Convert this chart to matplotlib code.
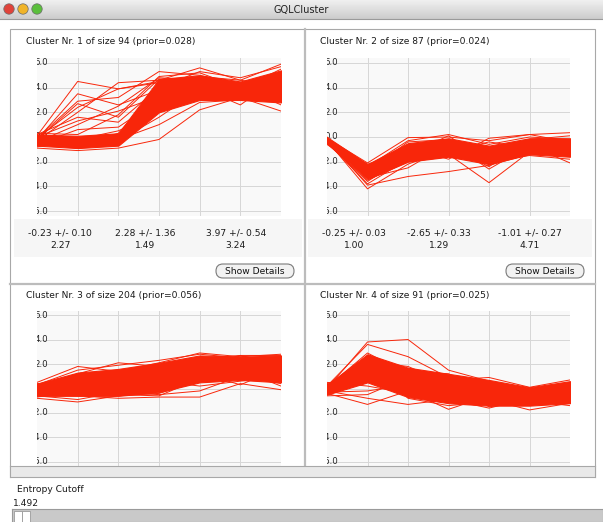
import numpy as np
import matplotlib
matplotlib.use('Agg')
import matplotlib.pyplot as plt
from matplotlib.patches import Rectangle, FancyBboxPatch, Circle

# profile values of every cluster, one row per gene, 7 conditions
xs = [0, 1, 2, 3, 4, 5, 6]

titles = ['Cluster Nr. 1 of size 94 (prior=0.028)',
          'Cluster Nr. 2 of size 87 (prior=0.024)',
          'Cluster Nr. 3 of size 204 (prior=0.056)',
          'Cluster Nr. 4 of size 91 (prior=0.025)']

# dense core of each cluster (lower / upper envelope)
c1_lo = [-0.7, -0.9, -0.7, 2.0, 3.0, 3.0, 2.8]
c1_hi = [0.2, 0.1, 0.3, 4.7, 5.0, 4.5, 5.4]
c2_lo = [-0.5, -3.4, -2.0, -1.6, -2.2, -1.4, -1.6]
c2_hi = [0.0, -2.2, -0.5, -0.1, -0.7, -0.1, -0.1]
c3_lo = [-0.6, -0.6, -0.6, -0.3, 0.5, 0.7, 0.5]
c3_hi = [0.4, 1.3, 1.6, 2.1, 2.7, 2.6, 2.7]
c4_lo = [-0.5, 0.5, -0.7, -1.2, -1.4, -1.4, -1.2]
c4_hi = [0.3, 2.8, 1.7, 1.2, 0.7, 0.1, 0.6]

c1_lines = [
    [-0.2, -0.5, -0.4, 3.5, 4.5, 4.0, 4.8],
    [0.0, -0.3, 0.0, 4.2, 4.8, 4.3, 5.2],
    [-0.5, -0.8, -0.7, 2.4, 3.6, 3.4, 3.0],
    [-0.9, -1.1, -0.9, -0.2, 2.2, 3.2, 2.1],
    [0.1, 4.5, 3.9, 4.4, 4.7, 4.2, 4.5],
    [-0.1, 2.9, 3.2, 5.3, 5.0, 4.2, 5.0],
    [-0.3, 2.0, 4.4, 4.6, 5.6, 4.6, 5.9],
    [0.2, 1.6, 1.2, 4.0, 4.9, 4.6, 4.1],
    [-0.4, 1.0, 2.5, 4.8, 4.6, 3.3, 4.4],
    [-0.6, 0.6, 0.8, 3.0, 4.0, 3.6, 3.7],
    [-0.2, 3.5, 2.6, 3.8, 4.2, 3.9, 5.5],
    [0.3, 0.2, 1.8, 4.9, 5.2, 4.0, 4.6],
    [-0.7, -0.4, -0.2, 1.0, 2.8, 3.0, 3.4],
    [-0.1, 2.4, 3.9, 4.5, 4.0, 2.6, 4.9],
    [-0.5, -0.9, -0.5, 2.8, 4.4, 4.4, 4.2],
    [0.0, 1.3, 2.1, 3.3, 3.3, 3.8, 3.2],
    [-0.3, -0.6, 0.3, 4.0, 5.3, 4.8, 5.7],
    [-0.8, -0.2, 0.5, 2.0, 3.1, 4.1, 2.6],
    [-0.2, 2.7, 1.6, 4.7, 4.5, 3.5, 4.0],
    [0.1, -0.1, -0.3, 1.6, 3.8, 3.7, 3.9],
]
c2_lines = [
    [-0.1, -2.1, -0.05, 0.0, -0.3, 0.2, 0.35],
    [-0.3, -4.2, -2.2, -1.0, -1.8, -1.0, -1.2],
    [-0.2, -3.9, -3.2, -2.8, -2.3, -1.4, -0.9],
    [-0.4, -3.0, -1.9, -1.4, -3.7, -1.2, -1.5],
    [-0.1, -2.4, -0.3, 0.2, -0.6, 0.0, -0.2],
    [-0.5, -3.6, -1.5, -0.4, -2.6, -0.7, -2.1],
    [-0.2, -2.6, -0.8, -1.8, -0.1, 0.2, -0.4],
    [0.0, -3.3, -2.5, -0.6, -1.2, -0.4, -1.0],
    [-0.6, -2.9, -1.2, -1.5, -2.0, -1.5, -1.8],
    [-0.3, -3.1, -0.6, -0.3, -1.0, -0.2, 0.1],
    [-0.2, -2.3, -1.0, -1.2, -0.4, -0.9, -0.6],
    [-0.4, -3.8, -1.8, -0.8, -2.4, -0.3, -1.3],
    [-0.1, -2.8, -0.4, -0.2, -1.5, -1.1, -0.5],
    [-0.5, -3.5, -2.0, -1.6, -0.9, -0.6, -1.6],
    [-0.3, -2.2, -1.4, 0.1, -2.1, -0.8, -0.3],
]
c3_lines = [
    [0.5, 1.8, 1.4, 2.1, 2.9, 2.6, 2.8],
    [-0.8, -1.1, -0.6, -0.4, 0.6, 1.3, 1.2],
    [0.0, 1.2, 2.1, 1.8, 2.5, 2.2, 2.4],
    [-0.4, -0.6, -0.8, -0.7, -0.7, 0.4, -0.1],
    [0.2, 0.8, 0.6, 1.2, 1.9, 2.7, 2.0],
    [-0.2, 0.2, 1.0, 1.4, 0.6, 0.8, 2.5],
    [-0.6, -0.9, -0.3, -0.5, -0.2, 1.0, 0.4],
    [0.3, 1.5, 1.9, 2.3, 2.8, 2.5, 2.6],
    [-0.1, 0.5, 0.0, 0.2, 1.3, 0.3, 1.7],
    [0.1, 1.0, 1.5, 0.9, 2.2, 1.8, 0.8],
    [-0.5, -0.3, 0.3, 0.0, 1.0, 1.5, 0.2],
    [0.4, 0.4, 1.2, 1.7, 2.4, 2.7, 2.7],
    [-0.3, -0.5, -0.1, 0.6, 0.2, 0.6, 1.0],
    [0.0, 0.9, 0.4, 1.0, 1.7, 2.0, 2.2],
    [-0.7, -0.2, -0.5, -0.6, 0.8, 1.1, 1.5],
]
c4_lines = [
    [0.0, 3.8, 4.0, 1.5, 0.6, -0.3, 0.2],
    [0.2, 3.6, 2.6, 0.9, 0.3, -0.5, -0.2],
    [-0.4, -1.3, -0.2, -1.7, -0.6, -1.0, -1.4],
    [-0.2, -0.8, -1.3, -0.9, -1.6, -0.8, -0.5],
    [0.5, 0.2, -0.4, 0.7, 0.9, 0.1, 0.7],
    [-0.6, -0.5, 0.9, -0.3, -0.9, -1.75, -1.2],
    [0.1, 2.9, 1.2, 1.0, 0.2, -0.7, 0.4],
    [-0.3, -0.2, 0.3, -1.1, -1.3, -0.4, -0.9],
    [0.3, 2.2, 1.8, 0.4, -0.2, -1.3, -0.3],
    [-0.1, 1.5, 0.6, -0.6, 0.5, -0.1, 0.5],
    [0.0, 2.5, -0.8, -1.4, -1.1, -1.2, -0.7],
    [-0.5, 0.8, 1.4, 1.2, -0.5, -0.9, 0.0],
    [0.2, 1.9, -0.1, 0.0, -1.0, -0.2, -1.1],
    [-0.2, 2.7, 0.5, -0.4, 0.0, -0.6, 0.3],
    [0.4, 1.1, 1.6, 0.8, -1.5, -1.0, -0.4],
]

# mean +/- sd and entropy shown under the top clusters
c1_stats = [('-0.23 +/- 0.10', '2.27'), ('2.28 +/- 1.36', '1.49'), ('3.97 +/- 0.54', '3.24')]
c2_stats = [('-0.25 +/- 0.03', '1.00'), ('-2.65 +/- 0.33', '1.29'), ('-1.01 +/- 0.27', '4.71')]

y_ticks = [6.0, 4.0, 2.0, 0.0, -2.0, -4.0, -6.0]
entropy_cutoff = 1.492

RED = '#f8260a'
GRID = '#d6d6d6'
FONT = 'DejaVu Sans'
W, H = 603, 522

fig = plt.figure(figsize=(W / 100, H / 100), dpi=100)
fig.patch.set_facecolor('white')


def px_axes(x0, y0, x1, y1, z=2):
    return fig.add_axes([x0 / W, 1 - y1 / H, (x1 - x0) / W, (y1 - y0) / H], zorder=z)


def canvas(z):
    a = fig.add_axes([0, 0, 1, 1], zorder=z)
    a.set_xlim(0, W)
    a.set_ylim(H, 0)
    a.axis('off')
    a.patch.set_alpha(0)
    return a


bg = canvas(0)
top = canvas(10)

# window title bar
grad = np.linspace(0.94, 0.80, 40).reshape(-1, 1)
bg.imshow(grad, cmap='gray', vmin=0, vmax=1, extent=(0, W, 19, 0), aspect='auto', zorder=0)
bg.plot([0, W], [19, 19], color='#9a9a9a', lw=0.8)
for cx, col in [(9, '#e0433a'), (23, '#f0b429'), (37, '#5bbf3c')]:
    bg.add_patch(Circle((cx, 9), 5.2, fc=col, ec='#6a6a6a', lw=0.5, zorder=2))
bg.text(W / 2, 9.5, 'GQLCluster', ha='center', va='center', fontsize=7, family=FONT, color='#222222')

# outer frame of the cluster view
bg.add_patch(Rectangle((10, 29), 585, 447, fc='white', ec='#a8a8a8', lw=0.8, zorder=0.5))
bg.plot([305, 305], [29, 466], color='#bcbcbc', lw=1.6, zorder=1)
bg.plot([10, 595], [284, 284], color='#bcbcbc', lw=1.6, zorder=1)

panels = [
    (titles[0], c1_lines, c1_lo, c1_hi, c1_stats, (12, 30, 304, 283), (37, 58, 281, 216)),
    (titles[1], c2_lines, c2_lo, c2_hi, c2_stats, (306, 30, 594, 283), (327, 58, 570, 216)),
    (titles[2], c3_lines, c3_lo, c3_hi, None, (12, 285, 304, 466), (37, 311, 281, 466)),
    (titles[3], c4_lines, c4_lo, c4_hi, None, (306, 285, 594, 466), (327, 311, 570, 466)),
]

for title, lines, lo, hi, stats, box, area in panels:
    bx0, by0, bx1, by1 = box
    bg.text(bx0 + 14, by0 + 11, title, ha='left', va='center', fontsize=6.6,
            family=FONT, color='#1a1a1a', zorder=3)

    ax = px_axes(*area)
    ax.set_facecolor('#f9f9f9')
    ax.set_xlim(0, 6)
    if stats is None:
        ax.set_ylim(-6.33, 6.33)
    else:
        ax.set_ylim(-6.4, 6.4)
    for s in ax.spines.values():
        s.set_visible(False)
    ax.set_xticks([])
    ax.set_yticks([])
    for v in y_ticks:
        ax.axhline(v, color=GRID, lw=0.7, zorder=1)
        ax.text(0.28, v, f'{v:.1f}', ha='right', va='center', fontsize=6.2,
                family=FONT, color='#222222', clip_on=True, zorder=1.5)
    for xv in xs[1:-1]:
        ax.axvline(xv, color=GRID, lw=0.7, zorder=1)

    ax.fill_between(xs, lo, hi, color=RED, lw=0.8, zorder=3)
    for row in lines:
        ax.plot(xs, row, color=RED, lw=0.7, zorder=4)

    if stats is not None:
        # stats strip under the profile plot
        bg.add_patch(Rectangle((bx0 + 2, 219), bx1 - bx0 - 4, 38, fc='#f6f6f6', ec='none', zorder=1))
        centers = [bx0 + 48, bx0 + 133, bx0 + 224]
        for cx, (mean_sd, ent) in zip(centers, stats):
            bg.text(cx, 233, mean_sd, ha='center', va='center', fontsize=6.6,
                    family=FONT, color='#1a1a1a', zorder=3)
            bg.text(cx, 245, ent, ha='center', va='center', fontsize=6.6,
                    family=FONT, color='#1a1a1a', zorder=3)
        btn = FancyBboxPatch((bx1 - 88, 264), 78, 14,
                             boxstyle='round,pad=0,rounding_size=7',
                             fc='#f2f2f2', ec='#7a7a7a', lw=0.8, zorder=3)
        bg.add_patch(btn)
        bg.text(bx1 - 49, 271.5, 'Show Details', ha='center', va='center',
                fontsize=6.6, family=FONT, color='#111111', zorder=4)

# strip under the cluster view
strip = px_axes(10, 466, 595, 477, z=5)
strip.set_facecolor('#e9e9e9')
strip.set_xticks([])
strip.set_yticks([])
for s in strip.spines.values():
    s.set_color('#a8a8a8')
    s.set_linewidth(0.8)

top.text(17, 490, 'Entropy Cutoff', ha='left', va='center', fontsize=6.6, family=FONT, color='#1a1a1a')
top.text(13, 503, f'{entropy_cutoff:.3f}', ha='left', va='center', fontsize=6.6, family=FONT, color='#1a1a1a')

# slider
slider = px_axes(12, 509, 603, 522, z=5)
slider.set_facecolor('#c9c9c9')
slider.set_xticks([])
slider.set_yticks([])
for s in slider.spines.values():
    s.set_color('#9a9a9a')
    s.set_linewidth(0.8)
top.add_patch(Rectangle((14, 510.5), 7.5, 11, fc='white', ec='#9a9a9a', lw=0.6))
top.add_patch(Rectangle((22, 510.5), 7.5, 11, fc='white', ec='#9a9a9a', lw=0.6))

fig.savefig('out.png', dpi=100)
